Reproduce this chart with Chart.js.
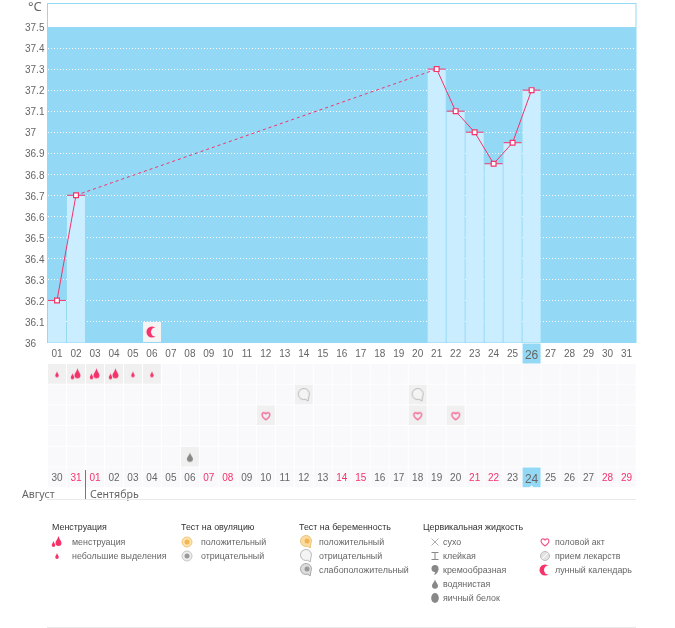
<!DOCTYPE html>
<html>
<head>
<meta charset="utf-8">
<script src="https://cdn.jsdelivr.net/npm/chart.js@4"></script>
<style>
  html, body { margin: 0; padding: 0; background: #fff; }
  body { position: relative; width: 675px; height: 628px; overflow: hidden; font-family: "Liberation Sans", sans-serif; color: #666; }
  canvas { position: absolute; left: 0; }
  .txt { position: absolute; white-space: nowrap; line-height: 12px; font-size: 8.9px; }
  .month { font-family: "Noto Sans", sans-serif; font-size: 10.6px; }
  .head { color: #333; }
  .rule { position: absolute; background: #e9e9e9; }
</style>
</head>
<body>
<canvas id="tempChart" width="675" height="365" style="top:0"></canvas>
<canvas id="rowsChart" width="675" height="137" style="top:363px"></canvas>
<div class="txt month" style="left:28px;top:0;font-size:13px">°C</div>
<div class="txt month" style="left:22px;top:488px">Август</div>
<div class="txt month" style="left:90px;top:488px">Сентябрь</div>
<div class="rule" style="left:85px;top:470px;width:1px;height:29px;background:#777"></div>
<div class="rule" style="left:47px;top:499px;width:589px;height:1px"></div>
<div class="rule" style="left:47px;top:627px;width:589px;height:1px"></div>
<div id="legend"></div>
<script>
'use strict';

var dayLabels = ['01', '02', '03', '04', '05', '06', '07', '08', '09', '10', '11', '12', '13', '14', '15', '16',
  '17', '18', '19', '20', '21', '22', '23', '24', '25', '26', '27', '28', '29', '30', '31'];
var cycleLabels = ['30', '31', '01', '02', '03', '04', '05', '06', '07', '08', '09', '10', '11', '12', '13', '14',
  '15', '16', '17', '18', '19', '20', '21', '22', '23', '24', '25', '26', '27', '28', '29'];
var pinkCycleLabels = ['31', '01', '07', '08', '14', '15', '21', '22', '28', '29'];
var temperatures = [36.2, 36.7, null, null, null, null, null, null, null, null, null, null, null, null, null, null,
  null, null, null, null, 37.3, 37.1, 37.0, 36.85, 36.95, 37.2, null, null, null, null, null];
var tempTicks = [36, 36.1, 36.2, 36.3, 36.4, 36.5, 36.6, 36.7, 36.8, 36.9, 37, 37.1, 37.2, 37.3, 37.4, 37.5];
var moonDays = [6];
var spottingDays = [1, 5, 6];
var flowDays = [2, 3, 4];
var pregnancyDays = [14, 20];
var intercourseDays = [12, 20, 22];
var wateryDays = [8];
var todayIndex = 25;

var PINK = '#f5336b';
var SKY = '#93d9f5';
var PALE = '#caeeff';
var FONT = '"Liberation Sans", sans-serif';

function drop(c, x, y, w, h, color) {
  c.fillStyle = color;
  c.beginPath();
  c.moveTo(x, y - h / 2);
  c.bezierCurveTo(x + w * 0.2, y - h * 0.1, x + w / 2, y, x + w / 2, y + h * 0.2);
  c.arc(x, y + h * 0.2, w / 2, 0, Math.PI);
  c.bezierCurveTo(x - w / 2, y, x - w * 0.2, y - h * 0.1, x, y - h / 2);
  c.fill();
}

function bubble(c, x, y, r, stroke, fill) {
  c.beginPath();
  c.arc(x, y, r, Math.PI * 0.4, Math.PI * 0.15, false);
  c.lineTo(x + r * 0.75, y + r + 1.5);
  c.closePath();
  c.fillStyle = fill;
  c.fill();
  c.strokeStyle = stroke;
  c.lineWidth = 1;
  c.stroke();
}

function drawIcon(c, type, x, y) {
  switch (type) {
    case 'spotting':
      drop(c, x, y, 3.5, 6, PINK);
      break;
    case 'flow':
      drop(c, x + 1.5, y - 1, 6, 10, PINK);
      drop(c, x - 3.5, y + 2, 3.5, 6, PINK);
      break;
    case 'moon':
      c.fillStyle = PINK;
      c.beginPath();
      c.arc(x, y, 5.5, 0, Math.PI * 2);
      c.fill();
      c.fillStyle = c.canvas.dataset.bg || '#fff';
      c.beginPath();
      c.arc(x + 3.5, y, 4.5, 0, Math.PI * 2);
      c.fill();
      break;
    case 'heart':
      c.strokeStyle = '#f4558a';
      c.lineWidth = 1.2;
      c.beginPath();
      c.moveTo(x, y + 4);
      c.bezierCurveTo(x - 7, y - 1, x - 3, y - 5, x, y - 2);
      c.bezierCurveTo(x + 3, y - 5, x + 7, y - 1, x, y + 4);
      c.stroke();
      break;
    case 'pregNeg':
      bubble(c, x, y - 1, 5.5, '#b5b5b5', '#f4f4f4');
      break;
    case 'pregPos':
      bubble(c, x, y - 1, 5.5, '#e8c27a', '#fbdca0');
      c.fillStyle = '#f2b252';
      c.beginPath();
      c.arc(x + 1, y - 1, 2.5, 0, Math.PI * 2);
      c.fill();
      break;
    case 'pregWeak':
      bubble(c, x, y - 1, 5.5, '#a5a5a5', '#ddd');
      c.fillStyle = '#999';
      c.beginPath();
      c.arc(x + 1, y - 1, 2.5, 0, Math.PI * 2);
      c.fill();
      break;
    case 'ovPos':
    case 'ovNeg':
      c.beginPath();
      c.arc(x, y, 5, 0, Math.PI * 2);
      c.fillStyle = type === 'ovPos' ? '#fde3b0' : '#eee';
      c.fill();
      c.strokeStyle = type === 'ovPos' ? '#f3c67a' : '#c4c4c4';
      c.lineWidth = 1;
      c.stroke();
      c.beginPath();
      c.arc(x, y, 2.5, 0, Math.PI * 2);
      c.fillStyle = type === 'ovPos' ? '#f5b550' : '#999';
      c.fill();
      break;
    case 'dry':
      c.strokeStyle = '#999';
      c.lineWidth = 0.8;
      c.beginPath();
      c.moveTo(x - 3.5, y - 3.5);
      c.lineTo(x + 3.5, y + 3.5);
      c.moveTo(x + 3.5, y - 3.5);
      c.lineTo(x - 3.5, y + 3.5);
      c.stroke();
      break;
    case 'sticky':
      c.strokeStyle = '#888';
      c.lineWidth = 1;
      c.beginPath();
      c.moveTo(x - 3.5, y - 3.5);
      c.lineTo(x + 3.5, y - 3.5);
      c.moveTo(x, y - 3.5);
      c.lineTo(x, y + 3.5);
      c.moveTo(x - 3.5, y + 3.5);
      c.lineTo(x + 3.5, y + 3.5);
      c.stroke();
      break;
    case 'creamy':
      c.fillStyle = '#888';
      c.beginPath();
      c.arc(x, y - 1.5, 3.5, 0, Math.PI * 2);
      c.fill();
      c.beginPath();
      c.moveTo(x + 3.5, y - 1);
      c.quadraticCurveTo(x + 3, y + 4, x - 1, y + 5);
      c.quadraticCurveTo(x + 1, y + 2, x - 1, y);
      c.fill();
      break;
    case 'watery':
      drop(c, x, y, 6, 9, '#888');
      break;
    case 'egg':
      c.fillStyle = '#888';
      c.beginPath();
      c.ellipse(x, y, 3.8, 5, 0, 0, Math.PI * 2);
      c.fill();
      break;
    case 'pill':
      c.beginPath();
      c.arc(x, y, 4.5, 0, Math.PI * 2);
      c.fillStyle = '#e4e4e4';
      c.fill();
      c.strokeStyle = '#bbb';
      c.stroke();
      c.strokeStyle = '#fff';
      c.beginPath();
      c.moveTo(x - 3, y + 3);
      c.lineTo(x + 3, y - 3);
      c.stroke();
      break;
  }
}

function iconCanvas(type, w, h, bg) {
  var cv = document.createElement('canvas');
  cv.width = w;
  cv.height = h;
  var c = cv.getContext('2d');
  if (bg) {
    cv.dataset.bg = bg;
    c.fillStyle = bg;
    c.fillRect(0, 0, w, h);
  }
  drawIcon(c, type, w / 2, h / 2);
  return cv;
}

// Blue band, frame and today's cell sit behind the temperature chart.
var tempBackground = {
  id: 'tempBackground',
  beforeDraw: function (chart) {
    var c = chart.ctx, a = chart.chartArea, y = chart.scales.y, x = chart.scales.x;
    var top = y.getPixelForValue(37.5);
    c.save();
    c.fillStyle = SKY;
    c.fillRect(a.left, top, a.width, a.bottom - top);
    c.strokeStyle = SKY;
    c.strokeRect(a.left, a.top, a.width, a.bottom - a.top);
    c.fillRect(x.getPixelForTick(todayIndex) - 9, a.bottom + 1, 18, 20);
    c.restore();
  }
};

var rowsBackground = {
  id: 'rowsBackground',
  beforeDraw: function (chart) {
    var c = chart.ctx, x = chart.scales.x, y = chart.scales.y;
    var busy = [spottingDays.concat(flowDays), pregnancyDays, intercourseDays, [], wateryDays, []];
    c.save();
    for (var r = 0; r < 6; r++) {
      for (var i = 0; i < dayLabels.length; i++) {
        var px = x.getPixelForTick(i), top = y.getPixelForValue(r), bottom = y.getPixelForValue(r + 1);
        var today = r === 5 && i === todayIndex;
        c.fillStyle = today ? SKY : (busy[r].indexOf(i + 1) >= 0 ? '#f0f0f0' : '#f9f8fa');
        c.fillRect(px - 9, top, 18, bottom - top - 1);
        if (today) {
          c.fillStyle = '#fff';
          c.beginPath();
          c.moveTo(px - 2, bottom - 1);
          c.lineTo(px + 2, bottom - 1);
          c.lineTo(px, bottom - 3);
          c.fill();
        }
      }
    }
    c.restore();
  }
};

function rowData(days, row) {
  return dayLabels.map(function (label, i) {
    return days.indexOf(i + 1) >= 0 ? row + 0.5 : null;
  });
}

function iconDataset(data, icon) {
  return { type: 'line', data: data, showLine: false, pointStyle: icon, pointRadius: 9, pointHoverRadius: 9 };
}

new Chart(document.getElementById('tempChart').getContext('2d'), {
  type: 'bar',
  data: {
    labels: dayLabels,
    datasets: [{
      type: 'line',
      order: 1,
      data: temperatures,
      spanGaps: true,
      borderColor: PINK,
      borderWidth: 1,
      backgroundColor: '#fff',
      pointStyle: 'rect',
      pointRadius: 3.4,
      pointBorderWidth: 1.2,
      pointBorderColor: PINK,
      pointBackgroundColor: '#fff',
      segment: {
        // Days without a measurement are joined by a dashed stretch.
        borderDash: function (ctx) {
          return ctx.p0.skip || ctx.p1.skip ? [3, 3] : undefined;
        }
      }
    }, {
      type: 'line',
      order: 2,
      data: temperatures,
      showLine: false,
      pointStyle: 'line',
      pointRadius: 9,
      pointBorderWidth: 1,
      pointBorderColor: PINK
    }, Object.assign(iconDataset(dayLabels.map(function (l, i) {
      return moonDays.indexOf(i + 1) >= 0 ? 36.05 : null;
    }), iconCanvas('moon', 18, 20, '#f4f4f4')), { order: 3 }), {
      order: 4,
      data: temperatures,
      backgroundColor: PALE,
      barPercentage: 1,
      categoryPercentage: 0.95
    }]
  },
  options: {
    responsive: false,
    animation: false,
    devicePixelRatio: 1,
    layout: { autoPadding: false, padding: { left: 25, top: 3.5, right: 39 } },
    plugins: { legend: { display: false }, tooltip: { enabled: false } },
    scales: {
      x: {
        grid: { display: false, drawTicks: false },
        border: { display: false },
        afterFit: function (scale) { scale.height = 22.5; },
        ticks: {
          autoSkip: false,
          maxRotation: 0,
          padding: 6,
          color: '#666',
          font: function (ctx) {
            return { family: FONT, size: ctx.index === todayIndex ? 12 : 10 };
          }
        }
      },
      y: {
        min: 36,
        max: 37.612,
        afterFit: function (scale) {
          scale.width = 22.5;
          scale.paddingTop = 0;
          scale.paddingBottom = 0;
        },
        afterBuildTicks: function (scale) {
          scale.ticks = tempTicks.map(function (v) { return { value: v }; });
        },
        border: { display: false, dash: [1, 2] },
        grid: {
          drawTicks: false,
          color: function (ctx) {
            var v = ctx.tick && ctx.tick.value;
            return v === 36 || v === 37.5 ? 'rgba(255,255,255,0)' : '#fff';
          },
          lineWidth: 1
        },
        ticks: {
          crossAlign: 'far',
          padding: 0,
          labelOffset: 1.5,
          color: '#666',
          font: { family: FONT, size: 10 },
          callback: function (v) { return String(v); }
        }
      }
    }
  },
  plugins: [tempBackground]
});

new Chart(document.getElementById('rowsChart').getContext('2d'), {
  type: 'line',
  data: {
    labels: cycleLabels,
    datasets: [
      iconDataset(rowData(spottingDays, 0), iconCanvas('spotting', 18, 20)),
      iconDataset(rowData(flowDays, 0), iconCanvas('flow', 18, 20)),
      iconDataset(rowData(pregnancyDays, 1), iconCanvas('pregNeg', 18, 20)),
      iconDataset(rowData(intercourseDays, 2), iconCanvas('heart', 18, 20)),
      iconDataset(rowData(wateryDays, 4), iconCanvas('watery', 18, 20))
    ]
  },
  options: {
    responsive: false,
    animation: false,
    devicePixelRatio: 1,
    layout: { autoPadding: false, padding: { left: 47.5, top: 1, right: 39 } },
    plugins: { legend: { display: false }, tooltip: { enabled: false } },
    scales: {
      x: {
        offset: true,
        grid: { display: false, drawTicks: false },
        border: { display: false },
        afterFit: function (scale) { scale.height = 32.5; },
        ticks: {
          autoSkip: false,
          maxRotation: 0,
          padding: 5,
          color: function (ctx) {
            return pinkCycleLabels.indexOf(cycleLabels[ctx.index]) >= 0 ? PINK : '#666';
          },
          font: function (ctx) {
            return { family: FONT, size: ctx.index === todayIndex ? 12 : 10 };
          }
        }
      },
      y: { display: false, min: 0, max: 5, reverse: true }
    }
  },
  plugins: [rowsBackground]
});

// Legend columns under the chart
var legendMenses = [['flow', 'менструация'], ['spotting', 'небольшие выделения']];
var legendOvulation = [['ovPos', 'положительный'], ['ovNeg', 'отрицательный']];
var legendPregnancy = [['pregPos', 'положительный'], ['pregNeg', 'отрицательный'], ['pregWeak', 'слабоположительный']];
var legendFluid = [['dry', 'сухо'], ['sticky', 'клейкая'], ['creamy', 'кремообразная'], ['watery', 'водянистая'], ['egg', 'яичный белок']];
var legendOther = [['heart', 'половой акт'], ['pill', 'прием лекарств'], ['moon', 'лунный календарь']];

function addLegendColumn(title, titleX, iconX, textX, items) {
  var box = document.getElementById('legend');
  if (title) {
    var h = document.createElement('div');
    h.className = 'txt head';
    h.style.left = titleX + 'px';
    h.style.top = '521px';
    h.textContent = title;
    box.appendChild(h);
  }
  items.forEach(function (item, i) {
    var centre = 542 + i * 14;
    var icon = iconCanvas(item[0], 16, 16);
    icon.style.left = (iconX - 8) + 'px';
    icon.style.top = (centre - 8) + 'px';
    box.appendChild(icon);
    var t = document.createElement('div');
    t.className = 'txt';
    t.style.left = textX + 'px';
    t.style.top = (centre - 6) + 'px';
    t.textContent = item[1];
    box.appendChild(t);
  });
}

addLegendColumn('Менструация', 52, 57, 72, legendMenses);
addLegendColumn('Тест на овуляцию', 181, 187, 201, legendOvulation);
addLegendColumn('Тест на беременность', 299, 306, 319, legendPregnancy);
addLegendColumn('Цервикальная жидкость', 423, 435, 443, legendFluid);
addLegendColumn('', 0, 545, 555, legendOther);
</script>
</body>
</html>
